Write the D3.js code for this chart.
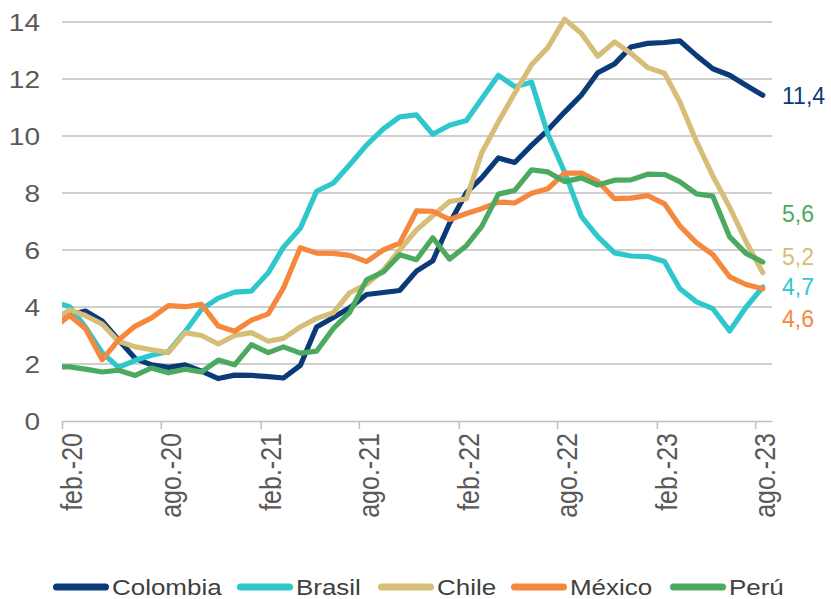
<!DOCTYPE html>
<html>
<head>
<meta charset="utf-8">
<script src="https://cdn.jsdelivr.net/npm/d3@7"></script>
<style>
  html, body { margin: 0; padding: 0; background: #ffffff; }
  svg { display: block; font-family: "Liberation Sans", Arial, sans-serif; }
</style>
</head>
<body>
<svg id="chart" width="831" height="599"></svg>
<script>
// ---------- DATA ----------
const periods = [
  "2020-01","2020-02","2020-03","2020-04","2020-05","2020-06","2020-07","2020-08","2020-09","2020-10","2020-11","2020-12",
  "2021-01","2021-02","2021-03","2021-04","2021-05","2021-06","2021-07","2021-08","2021-09","2021-10","2021-11","2021-12",
  "2022-01","2022-02","2022-03","2022-04","2022-05","2022-06","2022-07","2022-08","2022-09","2022-10","2022-11","2022-12",
  "2023-01","2023-02","2023-03","2023-04","2023-05","2023-06","2023-07","2023-08"
];
const colombia = [3.62,3.72,3.86,3.51,2.85,2.19,1.97,1.88,1.97,1.75,1.49,1.61,
  1.60,1.56,1.51,1.95,3.30,3.63,3.97,4.44,4.51,4.58,5.26,5.62,
  6.94,8.01,8.53,9.23,9.07,9.67,10.21,10.84,11.44,12.22,12.53,13.12,
  13.25,13.28,13.34,12.82,12.36,12.13,11.78,11.43];
const brasil = [4.19,4.01,3.30,2.40,1.88,2.13,2.31,2.44,3.14,3.92,4.31,4.52,
  4.56,5.20,6.10,6.76,8.06,8.35,8.99,9.68,10.25,10.67,10.74,10.06,
  10.38,10.54,11.30,12.13,11.73,11.89,10.07,8.73,7.17,6.47,5.90,5.79,
  5.77,5.60,4.65,4.18,3.94,3.16,3.99,4.70];
const chile = [3.5,3.9,3.7,3.4,2.8,2.6,2.5,2.4,3.1,3.0,2.7,3.0,
  3.1,2.8,2.9,3.3,3.6,3.8,4.5,4.8,5.3,6.0,6.7,7.2,
  7.7,7.8,9.4,10.5,11.5,12.5,13.1,14.1,13.6,12.8,13.3,12.9,
  12.4,12.2,11.2,9.8,8.6,7.5,6.3,5.2];
const mexico = [3.24,3.70,3.25,2.15,2.84,3.33,3.62,4.05,4.01,4.09,3.33,3.15,
  3.54,3.76,4.67,6.08,5.89,5.88,5.81,5.59,6.00,6.24,7.37,7.36,
  7.07,7.28,7.45,7.68,7.65,7.99,8.15,8.70,8.70,8.41,7.80,7.82,
  7.91,7.62,6.85,6.25,5.84,5.06,4.79,4.64];
const peru = [1.90,1.90,1.82,1.72,1.78,1.60,1.86,1.69,1.82,1.72,2.14,1.97,
  2.68,2.40,2.60,2.38,2.45,3.25,3.81,4.95,5.23,5.83,5.66,6.43,
  5.68,6.15,6.82,7.96,8.09,8.81,8.74,8.40,8.53,8.28,8.45,8.46,
  8.66,8.65,8.40,7.97,7.89,6.46,5.88,5.58];

const seriesNames  = ["Colombia", "Brasil", "Chile", "México", "Perú"];
const seriesValues = [colombia, brasil, chile, mexico, peru];
const seriesColors = ["#0b3a78", "#2ec8cc", "#d7be78", "#f5883c", "#4caa60"];
// end-label vertical nudges, in data units (labels were hand-placed to avoid overlap)
const labelNudges  = [0, 0, 0.55, -1.04, 1.68];

const yTicks = [0, 2, 4, 6, 8, 10, 12, 14];
const xTickLabels = ["feb.-20","ago.-20","feb.-21","ago.-21","feb.-22","ago.-22","feb.-23","ago.-23"];
const axisStart = "2020-02-01";
const axisEnd   = "2023-09-01";

// ---------- LAYOUT ----------
const svg = d3.select("#chart");
const W = 831, H = 599;
const plot = { left: 62, right: 772, top: 22, bottom: 421 };
const legendX = [53, 237, 378, 511, 670];
const parseDay = d3.timeParse("%Y-%m-%d");
const dates = periods.map(p => parseDay(p + "-15"));

const x = d3.scaleTime().domain([parseDay(axisStart), parseDay(axisEnd)]).range([plot.left, plot.right]);
const y = d3.scaleLinear().domain([0, 14]).range([plot.bottom, plot.top]);

svg.append("rect").attr("width", W).attr("height", H).attr("fill", "#ffffff");

const gridColor = "#bfbfbf";
const textColor = "#595959";

// gridlines
svg.append("g").selectAll("line")
  .data(yTicks.filter(t => t > 0))
  .join("line")
  .attr("x1", plot.left).attr("x2", plot.right)
  .attr("y1", d => y(d)).attr("y2", d => y(d))
  .attr("stroke", gridColor).attr("stroke-width", 1.5);

// y labels
svg.append("g").selectAll("text")
  .data(yTicks)
  .join("text")
  .attr("transform", d => `translate(40,${y(d)}) scale(1.17,1)`)
  .attr("text-anchor", "end")
  .attr("dy", "0.36em")
  .attr("font-size", 24)
  .attr("fill", textColor)
  .text(d => d);

// x axis
const tickDates = d3.timeMonth.range(parseDay(axisStart), parseDay(axisEnd), 6);
const xAxis = d3.axisBottom(x)
  .tickValues(tickDates)
  .tickSize(8)
  .tickSizeOuter(0)
  .tickFormat((d, i) => xTickLabels[i]);
const gx = svg.append("g").attr("transform", `translate(0,${plot.bottom})`).call(xAxis);
gx.select(".domain").attr("stroke", gridColor).attr("stroke-width", 1.5);
gx.selectAll(".tick line").attr("stroke", gridColor).attr("stroke-width", 1.5);
gx.selectAll(".tick text")
  .attr("x", 0).attr("y", 0).attr("dy", 0)
  .attr("text-anchor", "end")
  .attr("transform", "translate(19.5,12) scale(1.15,1) rotate(-90)")
  .attr("font-size", 25)
  .attr("font-family", "'Liberation Sans', Arial, sans-serif")
  .attr("fill", textColor);

// clip
svg.append("clipPath").attr("id", "plotclip")
  .append("rect")
  .attr("x", plot.left).attr("y", 0)
  .attr("width", plot.right - plot.left + 10).attr("height", plot.bottom + 10);

// lines
const line = d3.line()
  .x((d, i) => x(dates[i]))
  .y(d => y(d));

const gLines = svg.append("g").attr("clip-path", "url(#plotclip)");
seriesValues.forEach((vals, s) => {
  gLines.append("path")
    .datum(vals)
    .attr("d", line)
    .attr("fill", "none")
    .attr("stroke", seriesColors[s])
    .attr("stroke-width", 5.2)
    .attr("stroke-linejoin", "round")
    .attr("stroke-linecap", "round");
});

// end labels
const fmt = v => d3.format(".1f")(v).replace(".", ",");
const lastIdx = periods.length - 1;
svg.append("g").selectAll("text")
  .data(seriesValues.map((v, s) => ({ v: v[lastIdx], s })))
  .join("text")
  .attr("x", 782)
  .attr("y", d => y(d.v + labelNudges[d.s]))
  .attr("dy", "0.36em")
  .attr("font-size", 23)
  .attr("fill", d => seriesColors[d.s])
  .text(d => fmt(d.v));

// legend
const legend = svg.append("g").attr("transform", "translate(0,587)");
const legendScale = 1.18;
seriesNames.forEach((name, s) => {
  const lx = legendX[s];
  const g = legend.append("g");
  g.append("line")
    .attr("x1", lx + 3.5).attr("x2", lx + 52.5)
    .attr("y1", 0).attr("y2", 0)
    .attr("stroke", seriesColors[s])
    .attr("stroke-width", 7)
    .attr("stroke-linecap", "round");
  g.append("text")
    .attr("transform", `translate(${lx + 59},0) scale(${legendScale},1)`)
    .attr("dy", "0.36em")
    .attr("font-size", 22)
    .attr("fill", "#404040")
    .text(name);
});
</script>
</body>
</html>
